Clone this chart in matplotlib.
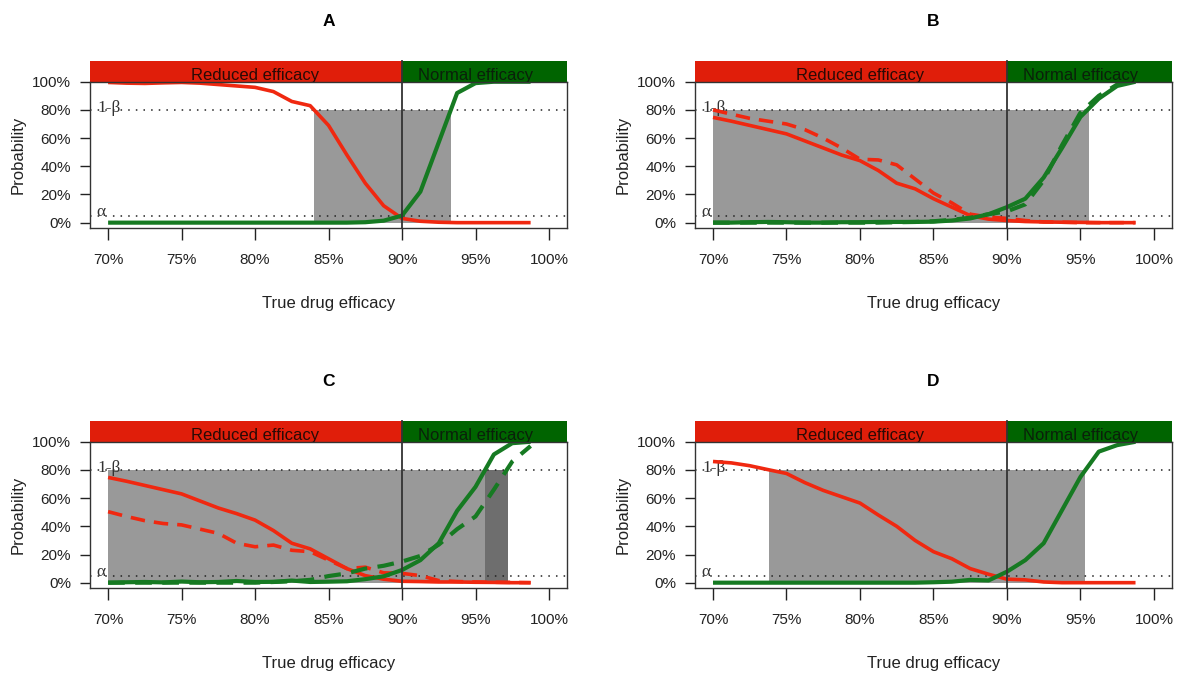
import numpy as np
import matplotlib
matplotlib.use("Agg")
import matplotlib.pyplot as plt
from matplotlib.patches import Rectangle

plt.rcParams['font.family'] = ['Liberation Sans', 'DejaVu Sans']

# true drug efficacy (%) at which the curves were evaluated
efficacy = [70, 71.25, 72.5, 73.75, 75, 76.25, 77.5, 78.75, 80, 81.25, 82.5, 83.75,
            85, 86.25, 87.5, 88.75, 90, 91.25, 92.5, 93.75, 95, 96.25, 97.5, 98.75]

# probability (%) of classifying as reduced (red) / normal (green) efficacy
red_a = [99.5, 99.0, 98.8, 99.2, 99.5, 99.0, 98.0, 97.0, 96.0, 93.0, 86.0, 83.0,
         69.0, 48.0, 28.0, 12.0, 3.0, 1.0, 0.3, 0, 0, 0, 0, 0]
green_a = [0, 0, 0, 0, 0, 0, 0, 0, 0, 0, 0, 0,
           0, 0, 0.3, 1.4, 5.0, 22.0, 57.0, 92.0, 99.0, 100, 100, 100]

red_b = [74.7, 72.0, 69.0, 66.0, 63.0, 58.0, 53.0, 48.0, 44.0, 37.0, 28.0, 24.0,
         17.0, 11.0, 5.0, 2.5, 1.5, 0.8, 0.5, 0.3, 0.2, 0, 0, 0]
red_b2 = [80.0, 77.0, 74.0, 72.0, 70.0, 66.0, 60.0, 53.0, 45.0, 44.5, 41.0, 31.0,
          21.0, 14.0, 6.0, 4.0, 3.0, 1.5, 0.5, 0.3, 0, 0, 0, 0]
green_b = [0, 0, 0.3, 0.5, 0.3, 0, 0, 0.3, 0.3, 0.5, 0.5, 0.5,
           0.7, 1.5, 3.0, 6.0, 11.0, 17.0, 32.0, 53.0, 75.0, 88.0, 97.0, 100]
green_b2 = [0, 0, 0, 0, 0, 0, 0, 0, 0, 0, 0.3, 0.5,
            1.0, 2.0, 3.5, 6.0, 8.0, 13.0, 30.0, 55.0, 78.0, 90.0, 98.0, 100]

red_c = [74.7, 72.0, 69.0, 66.0, 63.0, 58.0, 53.0, 49.0, 44.4, 37.0, 28.0, 24.0,
         17.0, 10.0, 5.0, 2.5, 1.0, 0.8, 0.5, 0.5, 0.3, 0.2, 0, 0]
red_c2 = [50.4, 47.0, 44.0, 42.0, 41.0, 38.0, 35.0, 28.0, 25.5, 26.7, 23.0, 22.0,
          16.0, 10.0, 11.0, 7.0, 6.6, 5.0, 1.5, 0.8, 0.5, 0.3, 0.2, 0]
green_c = [0, 0.3, 0.5, 0.2, 0.8, 0.3, 0.5, 1.2, 0.5, 0.6, 1.5, 0.5,
           0.7, 1.0, 2.5, 4.5, 9.0, 16.0, 28.0, 51.0, 68.0, 91.0, 99.0, 100]
green_c2 = [0, 0, 0, 0, 0, 0, 0, 0, 0, 0.5, 1.0, 2.0,
            4.7, 6.6, 10.0, 12.0, 15.0, 19.0, 27.0, 38.0, 47.0, 66.0, 86.0, 97.0]

red_d = [86.0, 85.0, 83.0, 80.2, 77.5, 71.0, 65.5, 61.0, 56.5, 48.0, 40.0, 30.0,
         22.0, 17.0, 10.0, 6.0, 2.5, 2.0, 0.5, 0, 0, 0, 0, 0]
green_d = [0, 0, 0, 0, 0, 0, 0, 0, 0, 0, 0, 0,
           0.3, 0.7, 2.0, 1.6, 7.8, 16.0, 28.0, 51.5, 75.0, 93.0, 97.6, 100]

# efficacy range over which power >= 1-beta is not reached (grey boxes)
grey_a = [(84.0, 93.3)]
grey_b = [(70.0, 95.6)]
grey_c = [(70.0, 97.2), (70.0, 95.65)]
grey_d = [(73.8, 95.3)]

panels = [
    ("A", [(red_a, "-")], [(green_a, "-")], grey_a),
    ("B", [(red_b, "-"), (red_b2, "--")], [(green_b, "-"), (green_b2, "--")], grey_b),
    ("C", [(red_c, "-"), (red_c2, "--")], [(green_c, "-"), (green_c2, "--")], grey_c),
    ("D", [(red_d, "-")], [(green_d, "-")], grey_d),
]

positions = [[0.0768, 0.6623, 0.4042, 0.2168], [0.5903, 0.6623, 0.4042, 0.2168],
             [0.0768, 0.1297, 0.4042, 0.2168], [0.5903, 0.1297, 0.4042, 0.2168]]

RED_BAR = '#e01e0a'
GREEN_BAR = '#006400'
RED_LINE = '#f02810'
GREEN_LINE = '#167a22'
GREYS = ['#6e6e6e', '#999999']

xmin, xmax = 68.8, 101.2
alpha_level, power_level = 5, 80

fig = plt.figure(figsize=(11.78, 6.76), dpi=100)

for (name, reds, greens, greys), pos in zip(panels, positions):
    ax = fig.add_axes(pos)
    ax.set_xlim(xmin, xmax)
    ax.set_ylim(-4, 100)

    # grey area(s): first darker one, lighter drawn on top
    if len(greys) == 1:
        cols = [GREYS[1]]
    else:
        cols = GREYS
    for (g0, g1), c in zip(greys, cols):
        ax.add_patch(Rectangle((g0, 0), g1 - g0, power_level, facecolor=c,
                               edgecolor='none', zorder=1))

    # reduced / normal efficacy bars above the plot
    ax.add_patch(Rectangle((xmin, 100), 90 - xmin, 15, facecolor=RED_BAR,
                           edgecolor='none', clip_on=False, zorder=3))
    ax.add_patch(Rectangle((90, 100), xmax - 90, 15, facecolor=GREEN_BAR,
                           edgecolor='none', clip_on=False, zorder=3))
    ax.text(80, 101, "Reduced efficacy", ha='center', va='baseline',
            fontsize=12, color='#2a0a05', zorder=4, clip_on=False)
    ax.text(95, 101, "Normal efficacy", ha='center', va='baseline',
            fontsize=12, color='#0a200a', zorder=4, clip_on=False)

    ax.axhline(power_level, color='#222222', lw=1.1, ls=(0, (1, 4)), zorder=2)
    ax.axhline(alpha_level, color='#222222', lw=1.1, ls=(0, (1, 4)), zorder=2)
    ax.text(69.3, power_level - 1.5, "1-β", family=['Liberation Serif', 'DejaVu Serif'],
            fontsize=12.5, color='#333333', ha='left', va='baseline', zorder=2)
    ax.text(69.2, alpha_level - 0.6, "α", family=['Liberation Serif', 'DejaVu Serif'],
            fontsize=12.5, color='#333333', ha='left', va='baseline', zorder=2)

    for vals, ls in reds:
        ax.plot(efficacy, vals, color=RED_LINE, lw=2.6, ls=ls, dashes=(4, 2.5) if ls == "--" else (None, None),
                solid_capstyle='butt', zorder=5)
    for vals, ls in greens:
        ax.plot(efficacy, vals, color=GREEN_LINE, lw=3.0, ls=ls, dashes=(4, 2.5) if ls == "--" else (None, None),
                solid_capstyle='butt', zorder=5)

    ax.plot([90, 90], [-4, 115], color='#333333', lw=1.3, clip_on=False, zorder=6)

    ax.set_xticks([70, 75, 80, 85, 90, 95, 100])
    ax.set_xticklabels(["70%", "75%", "80%", "85%", "90%", "95%", "100%"])
    ax.set_yticks([0, 20, 40, 60, 80, 100])
    ax.set_yticklabels(["0%", "20%", "40%", "60%", "80%", "100%"])
    ax.tick_params(axis='x', direction='out', length=8.5, width=1, pad=9,
                   labelsize=11, colors='#222222')
    ax.tick_params(axis='y', direction='out', length=7, width=1, pad=7,
                   labelsize=11, colors='#222222')
    for sp in ax.spines.values():
        sp.set_color('#333333')
        sp.set_linewidth(1)
        sp.set_zorder(7)

    ax.set_xlabel("True drug efficacy", fontsize=12, color='#222222')
    ax.xaxis.set_label_coords(0.5, -0.462)
    ax.set_ylabel("Probability", fontsize=12, color='#222222')
    ax.yaxis.set_label_coords(-0.1355, 0.5)
    ax.text(0.5, 1.41, name, transform=ax.transAxes, ha='center', va='center',
            fontsize=12.5, fontweight='bold')

fig.savefig("out.png", dpi=100)
